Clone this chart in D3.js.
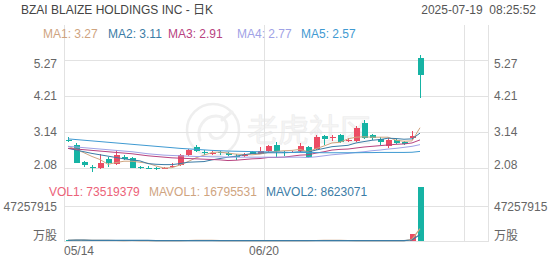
<!DOCTYPE html>
<html><head><meta charset="utf-8">
<script src="https://cdn.jsdelivr.net/npm/d3@7"></script>
<style>
html,body{margin:0;padding:0;background:#fff;}
svg{display:block;font-family:"Liberation Sans",Arial,"Noto Sans CJK SC",sans-serif;}
</style></head><body>
<svg id="c" width="552" height="265"></svg>
<script>
// ---------------- data ----------------
const title = "BZAI BLAIZE HOLDINGS INC - 日K";
const stamp = "2025-07-19  08:25:52";
const dates = ["05/14","05/15","05/16","05/19","05/20","05/21","05/22","05/23","05/27","05/28","05/29","05/30",
  "06/02","06/03","06/04","06/05","06/06","06/09","06/10","06/11","06/12","06/13","06/16","06/17","06/18","06/20",
  "06/23","06/24","06/25","06/26","06/27","06/30",
  "07/01","07/02","07/03","07/07","07/08","07/09","07/10","07/11","07/14","07/15","07/16","07/17","07/18"];
const open  = [2.92,2.76,2.26,2.12,2.09,2.35,2.20,2.41,2.38,2.10,2.09,2.08,2.07,2.10,2.17,2.46,2.70,2.54,2.50,2.54,2.52,2.42,2.43,2.55,2.50,2.58,2.76,2.56,2.54,2.58,2.70,2.64,3.03,2.98,3.06,2.88,2.88,3.41,3.06,2.94,2.73,2.91,2.85,2.98,5.33];
const high  = [3.00,2.82,2.29,2.17,2.49,2.41,2.62,2.45,2.41,2.15,2.13,2.12,2.11,2.22,2.49,2.64,2.76,2.61,2.57,2.58,2.55,2.49,2.52,2.58,2.70,2.76,2.85,2.58,2.57,2.82,2.73,3.06,3.06,3.06,3.09,2.97,3.32,3.50,3.08,3.00,2.97,2.94,2.88,3.17,5.42];
const low   = [2.86,2.22,2.10,1.96,2.06,2.12,2.18,2.33,2.08,2.06,2.05,2.02,2.05,2.08,2.14,2.44,2.55,2.47,2.46,2.47,2.44,2.32,2.40,2.48,2.48,2.55,2.41,2.44,2.52,2.55,2.38,2.60,2.76,2.88,2.82,2.85,2.85,2.94,2.91,2.76,2.67,2.79,2.76,2.91,4.15];
const close = [2.89,2.23,2.17,2.11,2.23,2.23,2.47,2.36,2.09,2.09,2.08,2.06,2.08,2.15,2.46,2.61,2.58,2.52,2.52,2.52,2.47,2.41,2.47,2.50,2.58,2.73,2.58,2.55,2.55,2.73,2.41,3.00,2.94,3.00,2.85,2.90,3.26,2.97,2.97,2.85,2.90,2.82,2.80,3.03,4.83];
const ma1 = [2.72,2.63,2.53,2.42,2.33,2.19,2.24,2.28,2.28,2.25,2.22,2.14,2.08,2.09,2.17,2.27,2.38,2.46,2.54,2.55,2.52,2.49,2.48,2.47,2.49,2.54,2.57,2.59,2.60,2.63,2.56,2.65,2.73,2.82,2.84,2.94,2.99,3.00,2.99,2.99,2.99,2.90,2.87,2.88,3.27];
const ma2 = [2.66,2.61,2.56,2.51,2.47,2.43,2.39,2.35,2.32,2.29,2.21,2.19,2.18,2.18,2.21,2.25,2.26,2.27,2.32,2.36,2.40,2.43,2.47,2.51,2.52,2.53,2.53,2.53,2.54,2.56,2.55,2.61,2.66,2.71,2.73,2.75,2.82,2.86,2.90,2.92,2.96,2.95,2.93,2.94,3.11];
const ma3 = [2.66,2.64,2.62,2.60,2.58,2.56,2.54,2.52,2.50,2.47,2.44,2.42,2.40,2.38,2.37,2.36,2.35,2.34,2.33,2.32,2.30,2.31,2.33,2.35,2.36,2.39,2.39,2.40,2.43,2.46,2.47,2.52,2.56,2.61,2.63,2.64,2.67,2.70,2.72,2.74,2.76,2.78,2.79,2.82,2.91];
const ma4 = [2.72,2.70,2.68,2.66,2.64,2.62,2.60,2.58,2.56,2.53,2.50,2.48,2.46,2.45,2.44,2.43,2.42,2.42,2.41,2.41,2.40,2.40,2.40,2.40,2.40,2.40,2.40,2.40,2.40,2.40,2.39,2.41,2.44,2.47,2.49,2.51,2.54,2.56,2.59,2.61,2.64,2.66,2.69,2.72,2.77];
const ma5 = [2.94,2.92,2.90,2.88,2.86,2.84,2.82,2.80,2.78,2.76,2.74,2.72,2.70,2.68,2.66,2.645,2.63,2.615,2.60,2.59,2.58,2.575,2.57,2.565,2.56,2.555,2.55,2.545,2.54,2.54,2.535,2.535,2.53,2.53,2.53,2.53,2.53,2.535,2.535,2.54,2.54,2.54,2.54,2.545,2.57];
const volume = [900000,1600000,800000,600000,700000,500000,900000,500000,800000,400000,300000,400000,300000,400000,1200000,1000000,700000,400000,300000,300000,300000,400000,300000,300000,400000,600000,700000,300000,200000,500000,700000,1600000,700000,400000,500000,300000,700000,600000,350000,300000,350000,300000,300000,9500000,73519379];
const mavol1M = [0.9,1.25,1.1,0.975,0.92,0.84,0.70,0.64,0.68,0.62,0.58,0.48,0.44,0.36,0.52,0.66,0.72,0.74,0.72,0.54,0.40,0.34,0.32,0.32,0.34,0.40,0.46,0.46,0.44,0.46,0.48,0.66,0.74,0.78,0.78,0.70,0.52,0.50,0.49,0.45,0.46,0.38,0.32,2.15,16.795531];
const mavol2M = [0.9,1.25,1.1,0.975,0.92,0.85,0.857,0.8125,0.811,0.77,0.71,0.59,0.54,0.52,0.57,0.62,0.60,0.59,0.54,0.53,0.53,0.53,0.53,0.52,0.44,0.40,0.40,0.39,0.38,0.40,0.44,0.56,0.60,0.61,0.62,0.59,0.59,0.62,0.635,0.615,0.58,0.45,0.41,1.32,8.623071];
const maNames = ["MA1","MA2","MA3","MA4","MA5"];
const maValues = [3.27, 3.11, 2.91, 2.77, 2.57];
const volNames = ["VOL1","MAVOL1","MAVOL2"];
const volValues = [73519379, 16795531, 8623071];
const priceTicks = [2.08, 3.14, 4.21, 5.27];
const volTicks = [0, 47257915];
const volUnit = "万股";
const xTickSlots = [0, 25, 50];

// ---------------- layout ----------------
const L = 64, R = 488, TOP = 25, nSlots = 53;
const UP = "#ec4b63", DOWN = "#16b3a4";
const maColors = ["#cfa47f", "#3b7ca6", "#b8437f", "#9fa2e6", "#3f9ad2"];
const volColors = ["#ec6278", "#cfa47f", "#3b7ca6"];
const GRID = "#e2e2e2", TXT = "#666";

const svg = d3.select("#c");
const x = d3.scaleBand().domain(d3.range(nSlots)).range([L, R]).padding(0);
const bw = x.bandwidth();
const cx = i => x(i) + bw / 2;
const yP = d3.scaleLinear().domain([priceTicks[0], priceTicks[3]]).range([168, 60]);
const yV = d3.scaleLinear().domain(volTicks).range([241, 206]);
const n = close.length;
const idx = d3.range(n);

// watermark
const wm = svg.append("g");
wm.append("circle").attr("cx", 213).attr("cy", 130).attr("r", 26)
  .attr("fill", "none").attr("stroke", "#eeeeee").attr("stroke-width", 2.5);
wm.append("path").attr("d", "M200,140 C196,128 204,116 216,116 C226,116 230,126 224,134 C220,140 212,140 210,134 M222,120 L232,112")
  .attr("fill", "none").attr("stroke", "#f0f0f0").attr("stroke-width", 3).attr("stroke-linecap", "round");
wm.append("text").attr("x", 247).attr("y", 141).attr("font-size", 31)
  .attr("font-family", "'Noto Sans CJK SC',sans-serif")
  .attr("fill", "#f5f5f5").attr("stroke", "#ececec").attr("stroke-width", 0.6).text("老虎社区");

// grid
const grid = svg.append("g").attr("stroke", GRID).attr("stroke-width", 1).attr("shape-rendering", "crispEdges");
priceTicks.forEach(v => grid.append("line").attr("x1", L).attr("x2", R).attr("y1", Math.round(yP(v)) + 0.5).attr("y2", Math.round(yP(v)) + 0.5));
volTicks.forEach(v => grid.append("line").attr("x1", L).attr("x2", R).attr("y1", Math.round(yV(v)) + 0.5).attr("y2", Math.round(yV(v)) + 0.5));
xTickSlots.concat([nSlots]).forEach(s => {
  const xx = s < nSlots ? x(s) : R;
  grid.append("line").attr("x1", xx + 0.5).attr("x2", xx + 0.5).attr("y1", TOP).attr("y2", Math.round(yV(0)) + 0.5);
});

// axes
function styleAxis(g) {
  g.select(".domain").remove();
  g.selectAll("text").attr("fill", TXT).attr("font-size", 12)
    .attr("font-family", "'Liberation Sans',Arial,'Noto Sans CJK SC',sans-serif");
}
const clampP = v => Math.max(59 + 5, Math.min(170 - 5, yP(v)));
const clampV = v => Math.min(241 - 5, yV(v) + 1);
[["left", L, 7], ["right", R, 6]].forEach(([side, pos, pad]) => {
  const ax = (side === "left" ? d3.axisLeft(yP) : d3.axisRight(yP)).tickValues(priceTicks).tickSize(0).tickPadding(pad).tickFormat(d3.format(".2f"));
  const g = svg.append("g").attr("transform", `translate(${pos},0)`).call(ax).call(styleAxis);
  g.selectAll(".tick").attr("transform", d => `translate(0,${clampP(d)})`);
  const av = (side === "left" ? d3.axisLeft(yV) : d3.axisRight(yV)).tickValues(volTicks).tickSize(0).tickPadding(pad).tickFormat(d => d === 0 ? volUnit : String(d));
  const gv = svg.append("g").attr("transform", `translate(${pos},0)`).call(av).call(styleAxis);
  gv.selectAll(".tick").attr("transform", d => `translate(0,${clampV(d)})`);
});
const xa = d3.axisBottom(x).tickValues(xTickSlots.filter(s => s < n)).tickSize(0).tickPadding(5).tickFormat(s => dates[s]);
const gx = svg.append("g").attr("transform", `translate(0,${yV(0)})`).call(xa).call(styleAxis);
gx.selectAll(".tick").attr("transform", s => `translate(${x(s)},0)`);
gx.selectAll(".tick text").each(function () {
  const t = d3.select(this); const w = this.getComputedTextLength();
  const s = t.datum();
  if (x(s) - w / 2 < L) t.attr("text-anchor", "start").attr("x", 0);
});

// candles
const cg = svg.append("g").attr("shape-rendering", "crispEdges");
const col = i => close[i] >= open[i] ? UP : DOWN;
cg.selectAll("line.w").data(idx).join("line")
  .attr("x1", i => Math.floor(cx(i)) + 0.5).attr("x2", i => Math.floor(cx(i)) + 0.5)
  .attr("y1", i => yP(high[i])).attr("y2", i => yP(low[i])).attr("stroke", col);
cg.selectAll("rect.b").data(idx).join("rect")
  .attr("x", i => Math.floor(cx(i)) - 2.5 + 0.5).attr("width", 6)
  .attr("y", i => yP(Math.max(open[i], close[i])))
  .attr("height", i => Math.max(1, Math.abs(yP(open[i]) - yP(close[i]))))
  .attr("fill", col);

// MA lines
const mas = [ma1, ma2, ma3, ma4, ma5];
const line = d3.line().x((d, i) => cx(i)).y(d => yP(d));
mas.forEach((m, k) => svg.append("path").datum(m).attr("d", line).attr("fill", "none")
  .attr("stroke", maColors[k]).attr("stroke-width", 1));

// volume
svg.append("g").attr("shape-rendering", "crispEdges").selectAll("rect").data(idx).join("rect")
  .attr("x", i => Math.floor(cx(i)) - 2.5 + 0.5).attr("width", 6)
  .attr("y", i => yV(volume[i])).attr("height", i => yV(0) - yV(volume[i]))
  .attr("fill", col);
const vline = d3.line().x((d, i) => cx(i)).y(d => yV(d * 1e6));
const vcols = ["#cfa47f", "#9a4a82"];
[mavol1M, mavol2M].forEach((m, k) => svg.append("path").datum(m).attr("d", vline).attr("fill", "none")
  .attr("stroke", k === 0 ? volColors[1] : volColors[2]).attr("stroke-width", 1.2));

// texts
svg.append("text").attr("x", 21).attr("y", 14).attr("font-size", 12).attr("fill", "#444").text(title);
svg.append("text").attr("x", 536).attr("y", 14).attr("font-size", 12).attr("fill", "#555")
  .attr("text-anchor", "end").style("white-space", "pre").text(stamp);
const maX = [43, 108, 168, 237, 301];
maNames.forEach((nm, k) => svg.append("text").attr("x", maX[k]).attr("y", 38).attr("font-size", 12)
  .attr("fill", maColors[k]).text(`${nm}: ${d3.format(".2f")(maValues[k])}`));
const volX = [49, 149, 266];
volNames.forEach((nm, k) => svg.append("text").attr("x", volX[k]).attr("y", 196).attr("font-size", 12)
  .attr("fill", volColors[k]).text(`${nm}: ${volValues[k]}`));
</script>
</body></html>
